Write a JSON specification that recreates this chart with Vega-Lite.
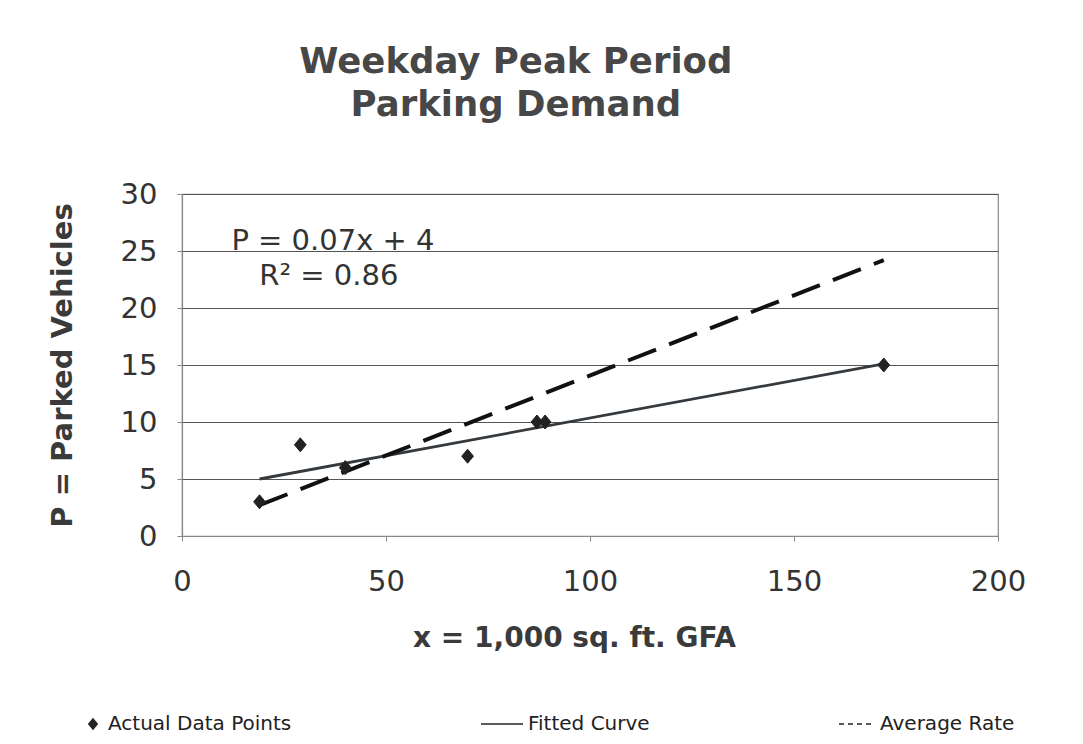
{
  "$schema": "https://vega.github.io/schema/vega-lite/v6.json",
  "autosize": {"type": "none"},
  "padding": {"left": 182, "top": 194, "right": 85, "bottom": 208},
  "width": 816,
  "height": 342,
  "background": "white",
  "title": {
    "text": ["Weekday Peak Period", "Parking Demand"],
    "font": "DejaVu Sans",
    "fontSize": 35.5,
    "fontWeight": "bold",
    "color": "#474747",
    "lineHeight": 43,
    "anchor": "middle",
    "frame": "bounds",
    "dx": -21,
    "offset": 57
  },
  "datasets": {
    "points": [
      {"x": 19, "y": 3, "series": "Actual Data Points"},
      {"x": 29, "y": 8, "series": "Actual Data Points"},
      {"x": 40, "y": 6, "series": "Actual Data Points"},
      {"x": 70, "y": 7, "series": "Actual Data Points"},
      {"x": 87, "y": 10, "series": "Actual Data Points"},
      {"x": 89, "y": 10, "series": "Actual Data Points"},
      {"x": 172, "y": 15, "series": "Actual Data Points"}
    ],
    "fitted": [
      {"x": 19, "y": 5.0},
      {"x": 172, "y": 15.1}
    ],
    "average": [
      {"x": 19, "y": 2.7},
      {"x": 172, "y": 24.2}
    ],
    "notes": [
      {"x": 37, "y": 25.9, "label": "P = 0.07x + 4"},
      {"x": 36, "y": 22.8, "label": "R² = 0.86"}
    ]
  },
  "layer": [
    {
      "data": {"name": "fitted"},
      "mark": {"type": "line", "color": "#353a3e", "strokeWidth": 2.8},
      "encoding": {
        "x": {"field": "x", "type": "quantitative"},
        "y": {"field": "y", "type": "quantitative"}
      }
    },
    {
      "data": {"name": "average"},
      "mark": {"type": "line", "color": "#111", "strokeWidth": 4, "strokeDash": [30, 14]},
      "encoding": {
        "x": {"field": "x", "type": "quantitative"},
        "y": {"field": "y", "type": "quantitative"}
      }
    },
    {
      "data": {"name": "points"},
      "mark": {"type": "point", "filled": false, "fill": "#222", "stroke": "#222", "strokeWidth": 1, "size": 784, "opacity": 1},
      "encoding": {
        "x": {
          "field": "x", "type": "quantitative",
          "scale": {"domain": [0, 200], "nice": false},
          "axis": {
            "title": "x = 1,000 sq. ft. GFA",
            "values": [0, 50, 100, 150, 200],
            "grid": false,
            "labelFlush": false,
            "titleX": 392,
            "titlePadding": 28,
            "labelPadding": 26,
            "tickSize": 5
          }
        },
        "y": {
          "field": "y", "type": "quantitative",
          "scale": {"domain": [0, 30], "nice": false},
          "axis": {
            "title": "P = Parked Vehicles",
            "titleFontSize": 29,
            "values": [0, 5, 10, 15, 20, 25, 30],
            "grid": true,
            "labelFlush": false,
            "titlePadding": 43,
            "labelPadding": 20,
            "tickSize": 5
          }
        },
        "shape": {
          "field": "series", "type": "nominal",
          "scale": {
            "domain": ["Actual Data Points", "Fitted Curve", "Average Rate"],
            "range": [
              "M0,-0.5L0.42,0L0,0.5L-0.42,0Z",
              "M-3.2,0L1,0",
              "M-2.6,0L-2.1,0M-1.7,0L-1.2,0M-0.8,0L-0.3,0M0.1,0L0.6,0"
            ]
          },
          "legend": {
            "title": null,
            "orient": "none",
            "legendX": -100,
            "legendY": 519,
            "direction": "horizontal",
            "columns": 3,
            "gridAlign": "each",
            "columnPadding": 186,
            "symbolSize": 400,
            "labelFont": "DejaVu Sans",
            "labelFontSize": 20,
            "labelColor": "#222",
            "labelOffset": 4,
            "labelLimit": 400,
            "encode": {
              "symbols": {
                "update": {
                  "fill": {"value": "#333"},
                  "fillOpacity": {"value": 1},
                  "stroke": {"value": "#5f6f7a"},
                  "strokeOpacity": {"value": 1},
                  "strokeWidth": {"value": 2.5},
                  "opacity": {"value": 1}
                }
              }
            }
          }
        }
      }
    },
    {
      "data": {"name": "notes"},
      "mark": {"type": "text", "font": "DejaVu Sans", "fontSize": 29, "color": "#333", "align": "center", "baseline": "middle"},
      "encoding": {
        "x": {"field": "x", "type": "quantitative"},
        "y": {"field": "y", "type": "quantitative"},
        "text": {"field": "label"}
      }
    }
  ],
  "config": {
    "view": {"stroke": "#888", "strokeWidth": 1.2},
    "axis": {
      "labelFont": "DejaVu Sans",
      "labelFontSize": 29,
      "labelColor": "#333",
      "titleFont": "DejaVu Sans",
      "titleFontSize": 28,
      "titleFontWeight": "bold",
      "titleColor": "#3a3a3a",
      "gridColor": "#555",
      "gridWidth": 1.1,
      "gridOpacity": 1,
      "domainColor": "#888",
      "domainWidth": 1.2,
      "tickColor": "#888"
    }
  }
}
